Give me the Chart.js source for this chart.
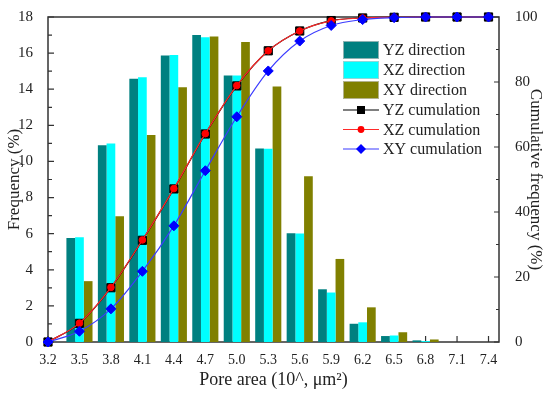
<!DOCTYPE html>
<html>
<head>
<meta charset="utf-8">
<script src="https://cdn.jsdelivr.net/npm/chart.js@4.4.0/dist/chart.umd.min.js"></script>
<style>
  html, body { margin: 0; padding: 0; background: #fff; }
</style>
</head>
<body>
<canvas id="pores" width="550" height="394"></canvas>
<script>
// pore area classes (10^, um^2)
const poreArea = ["3.2", "3.5", "3.8", "4.1", "4.4", "4.7", "5.0", "5.3", "5.6", "5.9", "6.2", "6.5", "6.8", "7.1", "7.4"];

// frequency (%) per direction
const yzFreq = [0, 5.76, 10.9, 14.58, 15.87, 17.01, 14.76, 10.72, 6.03, 2.92, 1.01, 0.33, 0.09, 0, 0];
const xzFreq = [0, 5.8, 11.0, 14.66, 15.89, 16.88, 14.76, 10.7, 6.01, 2.74, 1.09, 0.36, 0.05, 0, 0];
const xyFreq = [0, 3.37, 6.97, 11.47, 14.11, 16.92, 16.61, 14.15, 9.18, 4.6, 1.92, 0.54, 0.14, 0, 0];

// cumulative frequency (%)
const yzCum = [0, 5.74, 16.7, 31.3, 47.1, 64.0, 78.8, 89.6, 95.7, 98.9, 99.7, 99.9, 100, 100, 100];
const xzCum = [0, 5.8, 16.8, 31.4, 47.2, 64.1, 78.9, 89.6, 95.7, 98.8, 99.7, 99.9, 100, 100, 100];
const xyCum = [0, 3.3, 10.2, 21.75, 35.75, 52.7, 69.3, 83.4, 92.6, 97.4, 99.2, 99.8, 100, 100, 100];

const freqTicks = [0, 2, 4, 6, 8, 10, 12, 14, 16, 18];
const cumTicks = [0, 20, 40, 60, 80, 100];

const serif = "'Liberation Serif', 'Times New Roman', serif";
const ink = "#222";

const pts = (arr) => arr.map((v, i) => ({ x: Number(poreArea[i]), y: v }));

const barSet = (label, data, color) => ({
  type: "bar",
  label: label,
  data: pts(data),
  yAxisID: "y",
  backgroundColor: color,
  borderWidth: 0,
  categoryPercentage: 0.83,
  barPercentage: 1,
  order: 10,
});

const lineSet = (label, data, line, marker, style, radius, order) => ({
  type: "line",
  label: label,
  data: pts(data),
  yAxisID: "y1",
  borderColor: line,
  borderWidth: 1.2,
  backgroundColor: marker,
  pointBackgroundColor: marker,
  pointBorderColor: marker,
  pointBorderWidth: 1,
  pointStyle: style,
  pointRadius: radius,
  cubicInterpolationMode: "monotone",
  fill: false,
  clip: false,
  order: order,
});

// legend entries (drawn by the plugin below)
const legendItems = [
  { kind: "box", color: "#008080", text: "YZ direction" },
  { kind: "box", color: "#00ffff", text: "XZ direction" },
  { kind: "box", color: "#808000", text: "XY direction" },
  { kind: "line", color: "#000", marker: "square", text: "YZ cumulation" },
  { kind: "line", color: "#ff2a2a", marker: "circle", text: "XZ cumulation" },
  { kind: "line", color: "#3b3bff", marker: "diamond", text: "XY cumulation" },
];

const framePlugin = {
  id: "frame",
  beforeDatasetsDraw(chart) {
    const { ctx, chartArea: a, scales } = chart;
    ctx.save();
    ctx.strokeStyle = "#333";
    ctx.lineWidth = 1.5;
    ctx.strokeRect(a.left, a.top, a.right - a.left, a.bottom - a.top);
    ctx.lineWidth = 1.2;
    ctx.beginPath();
    // left axis ticks, inward
    for (let v = 0; v <= 18; v++) {
      const y = scales.y.getPixelForValue(v);
      ctx.moveTo(a.left, y);
      ctx.lineTo(a.left + (v % 2 === 0 ? 6 : 4), y);
    }
    // right axis ticks, inward
    for (let v = 0; v <= 100; v += 10) {
      const y = scales.y1.getPixelForValue(v);
      ctx.moveTo(a.right, y);
      ctx.lineTo(a.right - (v % 20 === 0 ? 5 : 3), y);
    }
    // bottom ticks, inward
    poreArea.forEach((p) => {
      const x = scales.x.getPixelForValue(Number(p));
      ctx.moveTo(x, a.bottom);
      ctx.lineTo(x, a.bottom - 6);
    });
    ctx.stroke();
    ctx.restore();
  },
  afterDatasetsDraw(chart) {
    const ctx = chart.ctx;
    const rows = [50, 70, 90, 110, 129.5, 149];
    const x0 = 343, x1 = 379, tx = 383;
    ctx.save();
    ctx.font = "16px " + serif;
    ctx.textBaseline = "middle";
    legendItems.forEach((it, i) => {
      const y = rows[i];
      if (it.kind === "box") {
        ctx.fillStyle = it.color;
        ctx.fillRect(x0, y - 9, x1 - x0, 18);
        ctx.strokeStyle = "rgba(200,200,200,0.7)";
        ctx.lineWidth = 1;
        ctx.strokeRect(x0 + 0.5, y - 8.5, x1 - x0 - 1, 17);
      } else {
        const cx = (x0 + x1) / 2;
        ctx.strokeStyle = it.color;
        ctx.lineWidth = 1.2;
        ctx.beginPath();
        ctx.moveTo(x0, y);
        ctx.lineTo(x1, y);
        ctx.stroke();
        ctx.fillStyle = it.marker === "square" ? "#000" : it.marker === "circle" ? "#ff0000" : "#0000ff";
        ctx.beginPath();
        if (it.marker === "square") {
          ctx.rect(cx - 4, y - 4, 8, 8);
        } else if (it.marker === "circle") {
          ctx.arc(cx, y, 3.4, 0, Math.PI * 2);
        } else {
          ctx.moveTo(cx, y - 5);
          ctx.lineTo(cx + 5, y);
          ctx.lineTo(cx, y + 5);
          ctx.lineTo(cx - 5, y);
          ctx.closePath();
        }
        ctx.fill();
      }
      ctx.fillStyle = ink;
      ctx.fillText(it.text, tx, y + 1);
    });
    ctx.restore();
  },
};

new Chart(document.getElementById("pores"), {
  type: "bar",
  data: {
    datasets: [
      barSet("YZ direction", yzFreq, "#008080"),
      barSet("XZ direction", xzFreq, "#00ffff"),
      barSet("XY direction", xyFreq, "#808000"),
      lineSet("YZ cumulation", yzCum, "#000", "#000", "rect", 5.8, 3),
      lineSet("XZ cumulation", xzCum, "#ff2a2a", "#ff0000", "circle", 3.3, 2),
      lineSet("XY cumulation", xyCum, "#3b3bff", "#0000ff", "rectRot", 5, 1),
    ],
  },
  options: {
    responsive: false,
    animation: false,
    layout: { padding: { top: 12, left: 0, right: 0, bottom: 0 } },
    plugins: { legend: { display: false }, tooltip: { enabled: false } },
    scales: {
      x: {
        type: "linear",
        position: "bottom",
        min: 3.2,
        max: 7.5,
        offset: false,
        grid: { display: false },
        border: { display: false },
        afterBuildTicks: (s) => { s.ticks = poreArea.map((p) => ({ value: Number(p) })); },
        afterFit: (s) => { s.height = 52; },
        ticks: {
          autoSkip: false,
          maxRotation: 0,
          padding: 2,
          color: ink,
          font: { family: serif, size: 14 },
          callback: (v) => Number(v).toFixed(1),
        },
        title: {
          display: true,
          text: "Pore area (10^, μm²)",
          color: ink,
          font: { family: serif, size: 18 },
          padding: { top: 0, bottom: 3 },
        },
      },
      y: {
        position: "left",
        min: 0,
        max: 18,
        grid: { display: false },
        border: { display: false },
        afterBuildTicks: (s) => { s.ticks = freqTicks.map((v) => ({ value: v })); },
        afterFit: (s) => { s.width = 48; },
        ticks: { padding: 7, color: ink, font: { family: serif, size: 15 } },
        title: {
          display: true,
          text: "Frequency (%)",
          color: ink,
          font: { family: serif, size: 17 },
          padding: { top: 4, bottom: 0 },
        },
      },
      y1: {
        position: "right",
        min: 0,
        max: 100,
        grid: { display: false },
        border: { display: false },
        afterBuildTicks: (s) => { s.ticks = cumTicks.map((v) => ({ value: v })); },
        afterFit: (s) => { s.width = 51; },
        ticks: { padding: 8, color: ink, font: { family: serif, size: 15 } },
        title: {
          display: true,
          text: "Cumulative frequency (%)",
          color: ink,
          font: { family: serif, size: 17 },
          padding: { top: 4, bottom: 0 },
        },
      },
    },
  },
  plugins: [framePlugin],
});
</script>
</body>
</html>
